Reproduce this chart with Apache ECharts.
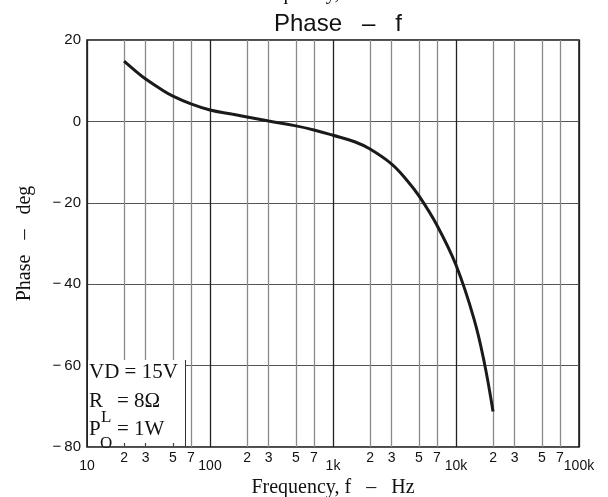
<!DOCTYPE html>
<html>
<head>
<meta charset="utf-8">
<script src="https://cdn.jsdelivr.net/npm/echarts@6/dist/echarts.min.js"></script>
<style>html,body{margin:0;padding:0;background:#fff}#c{width:608px;height:497px}</style>
</head>
<body>
<div id="c"></div>
<script>
// ---- data ----
var freqHz = [20, 25, 30, 40, 50, 70, 100, 150, 200, 300, 500, 700, 1000, 1500, 2000, 3000, 4000, 5000, 7000, 10000, 14000, 17000, 20000];
var phaseDeg = [14.8, 12.3, 10.4, 7.9, 6.2, 4.3, 2.8, 1.8, 1.1, 0.1, -1.1, -2.1, -3.4, -5.0, -6.8, -10.5, -14.5, -18.3, -25.5, -35.3, -48.5, -59.3, -71.3];
var decadeTicks = [10, 100, 1000, 10000, 100000];
var decadeLabels = ['10', '100', '1k', '10k', '100k'];
var minorTicks = [20, 30, 50, 70, 200, 300, 500, 700, 2000, 3000, 5000, 7000, 20000, 30000, 50000, 70000];
var minorLabels = ['2', '3', '5', '7', '2', '3', '5', '7', '2', '3', '5', '7', '2', '3', '5', '7'];
var boxTicks = [20, 30, 50];

var SERIF = '"Liberation Serif","DejaVu Serif",serif';
var SANS = '"Liberation Sans",Arial,sans-serif';

var chart = echarts.init(document.getElementById('c'), null, {renderer: 'canvas'});

var pts = freqHz.map(function (f, i) { return [f, phaseDeg[i]]; });

function decadeLabel(v) {
  for (var i = 0; i < decadeTicks.length; i++) {
    if (Math.abs(v - decadeTicks[i]) / decadeTicks[i] < 1e-6) return decadeLabels[i];
  }
  return '';
}

chart.setOption({
  animation: false,
  backgroundColor: '#fff',
  title: {
    text: 'Phase   \u2013   f',
    left: 333, textAlign: 'center', top: 7,
    textStyle: {fontFamily: SANS, fontSize: 24, fontWeight: 'normal', color: '#111'}
  },
  grid: {
    left: 87, right: 29, top: 40, bottom: 50,
    outerBoundsMode: 'none', containLabel: false,
    show: true, borderColor: '#111', borderWidth: 1.5, backgroundColor: 'transparent'
  },
  xAxis: {
    type: 'log', logBase: 10, min: 10, max: 100000,
    name: 'Frequency, f   \u2013   Hz', nameLocation: 'middle', nameGap: 28,
    nameTextStyle: {fontFamily: SERIF, fontSize: 20, color: '#111'},
    axisLine: {show: false}, axisTick: {show: false},
    axisLabel: {formatter: decadeLabel, margin: 12, fontFamily: SANS, fontSize: 14, color: '#111'},
    splitLine: {show: true, lineStyle: {color: '#222', width: 1.3}}
  },
  yAxis: {
    type: 'value', min: -80, max: 20, interval: 20,
    name: 'Phase   \u2013   deg', nameLocation: 'middle', nameGap: 52,
    nameTextStyle: {fontFamily: SERIF, fontSize: 20, color: '#111'},
    axisLine: {show: false}, axisTick: {show: false},
    axisLabel: {
      margin: 6, fontFamily: SANS, fontSize: 15, color: '#111',
      formatter: function (v) { return v < 0 ? '\u2212\u2009' + Math.abs(v) : String(v); }
    },
    splitLine: {show: true, lineStyle: {color: '#555', width: 1}}
  },
  graphic: [
    {type: 'text', z: 100, x: 333, y: 4, style: {text: 'Frequency, f   \u2013   Hz', font: '20px ' + SERIF, fill: '#111', textAlign: 'center', textVerticalAlign: 'bottom'}},
    {type: 'rect', z: 50, shape: {x: 88, y: 360, width: 97, height: 86}, style: {fill: '#fff'}},
    {type: 'line', z: 51, shape: {x1: 185.5, y1: 360, x2: 185.5, y2: 447}, style: {stroke: '#333', lineWidth: 1}},
    {type: 'text', z: 60, x: 89, y: 383, style: {text: 'VD = 15V', font: '21px ' + SERIF, fill: '#111', textVerticalAlign: 'bottom'}},
    {type: 'text', z: 60, x: 89, y: 412, style: {text: 'R', font: '21px ' + SERIF, fill: '#111', textVerticalAlign: 'bottom'}},
    {type: 'text', z: 60, x: 101, y: 426, style: {text: 'L', font: '17px ' + SERIF, fill: '#111', textVerticalAlign: 'bottom'}},
    {type: 'text', z: 60, x: 117, y: 412, style: {text: '= 8\u03A9', font: '21px ' + SERIF, fill: '#111', textVerticalAlign: 'bottom'}},
    {type: 'text', z: 60, x: 89, y: 440, style: {text: 'P', font: '21px ' + SERIF, fill: '#111', textVerticalAlign: 'bottom'}},
    {type: 'text', z: 60, x: 100, y: 452, style: {text: 'O', font: '17px ' + SERIF, fill: '#111', textVerticalAlign: 'bottom'}},
    {type: 'text', z: 60, x: 117, y: 440, style: {text: '= 1W', font: '21px ' + SERIF, fill: '#111', textVerticalAlign: 'bottom'}}
  ],
  series: [
    {
      type: 'line', data: pts, smooth: 0.4, symbol: 'none', z: 30,
      lineStyle: {color: '#1a1a1a', width: 3},
      markLine: {
        silent: true, symbol: 'none', z: 5, animation: false,
        lineStyle: {color: '#8a8a8a', width: 1.3, type: 'solid'},
        label: {show: true, position: 'start', distance: 4, formatter: '{b}', fontFamily: SANS, fontSize: 14, color: '#111'},
        emphasis: {disabled: true},
        data: minorTicks.map(function (v, i) { return {xAxis: v, name: minorLabels[i]}; })
      }
    },
    {
      type: 'line', data: [], symbol: 'none', z: 70,
      markLine: {
        silent: true, symbol: 'none', z: 70, animation: false,
        lineStyle: {color: '#444', width: 1.2, type: 'solid'},
        label: {show: false},
        emphasis: {disabled: true},
        data: boxTicks.map(function (v) { return [{coord: [v, -80]}, {coord: [v, -79]}]; })
      }
    }
  ]
});
</script>
</body>
</html>
